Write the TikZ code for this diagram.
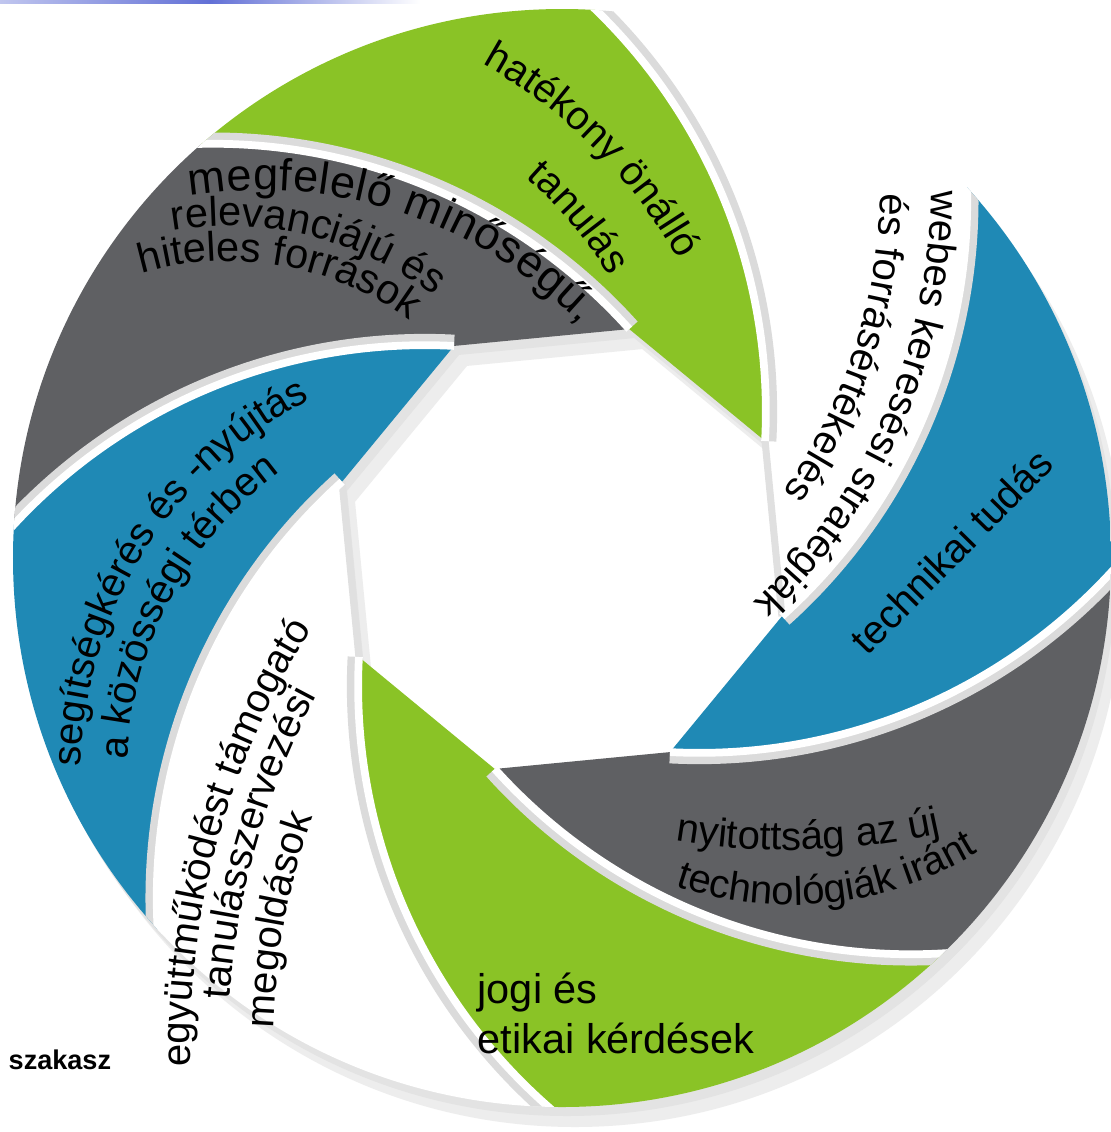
\documentclass[tikz,border=0pt]{standalone}
\usepackage{fontspec}
\setmainfont{Liberation Sans}
\usetikzlibrary{calc,decorations.text}

\definecolor{bladegreen}{RGB}{138,195,38}
\definecolor{bladeblue}{RGB}{31,137,181}
\definecolor{bladegray}{RGB}{95,96,99}
\definecolor{topline}{RGB}{98,112,214}

\newcommand{\bladefont}{\fontsize{11.4}{13}\selectfont}
\newcommand{\bigbladefont}{\fontsize{11.8}{13}\selectfont}
\newcommand{\archfont}{\fontsize{12.8}{14}\selectfont}

\begin{document}
\begin{tikzpicture}[x=0.01cm,y=0.01cm]
\tikzstyle{label}=[inner sep=0pt,font=\bladefont]
\tikzset{arctext/.style={decorate,decoration={text along path,text align=center,text={#1}}},
         arcfit/.style={decorate,decoration={text along path,text align={fit to path},text={#1}}}}

\useasboundingbox (0,0) rectangle (1111,-1132);
\fill[white] (0,0) rectangle (1111,-1132);

% thin rule at the top
\shade[left color=topline!40!white,right color=white,middle color=topline] (0,0) rectangle (420,-3);

% centres of the ring and of the opening
\coordinate (O)  at (562,-558);
\coordinate (Oc) at (562,-549);

\foreach \k in {0,...,7}{
  \pgfmathsetmacro\ang{28+45*\k}
  \coordinate (T\k) at ($(Oc)+(\ang:230)$);
  \coordinate (Q\k) at ($(T\k)+(\ang+149:560)$);
}

% soft shadow
\fill[black!7,even odd rule,transform canvas={shift={(13,-20)}}] (O) circle (549)
  (T0)--(T1)--(T2)--(T3)--(T4)--(T5)--(T6)--(T7)--cycle;
\fill[black!11,even odd rule,transform canvas={shift={(5,-9)}}] (O) circle (549)
  (T0)--(T1)--(T2)--(T3)--(T4)--(T5)--(T6)--(T7)--cycle;

% blades
\begin{scope}
\clip (O) circle (549);
\foreach \k/\c in {0/bladegreen,1/bladegray,2/bladeblue,3/white,4/bladegreen,5/bladegray,6/bladeblue,7/white}{
  \pgfmathsetmacro\ang{28+45*\k}
  \pgfmathtruncatemacro\n{mod(\k+1,8)}
  \fill[\c] (T\k) arc[start angle=\ang-31,end angle=\ang+30,radius=560]
    -- ($(O)+(\ang+70:900)$) -- ($(O)+(\ang+115:900)$)
    -- ($(Q\n)+(\ang+75:560)$) arc[start angle=\ang+75,end angle=\ang+14,radius=560] -- cycle;
}
\draw[black!12,line width=2pt] (T0)--(T7) (T4)--(T3);
\foreach \k in {0,...,7}{
  \pgfmathsetmacro\ang{28+45*\k}
  \draw[black!14,line width=3pt] ($(Q\k)+(\ang-31:566)$) arc[start angle=\ang-31,end angle=\ang+30,radius=566];
  \draw[white,line width=2.2pt] (T\k) arc[start angle=\ang-31,end angle=\ang+30,radius=560];
}
\end{scope}

% green, top
\coordinate (gtc) at (244,-498);
\path[arctext={|\bladefont|hatékony önálló}] ($(gtc)+(80:495)$) arc[start angle=80,end angle=10,radius=495];
\path[arctext={|\bladefont|tanulás}] ($(gtc)+(70:427)$) arc[start angle=70,end angle=10,radius=427];

% gray, top left
\coordinate (kta) at (260,-640);
\path[arcfit={|\archfont|megfelelő minőségű,}] ($(kta)+(99:450)$) arc[start angle=99,end angle=44.5,radius=450];
\coordinate (ktc) at (228,-566);
\path[arctext={|\bigbladefont|relevanciájú és}] ($(ktc)+(110:340)$) arc[start angle=110,end angle=42,radius=340];
\path[arctext={|\bigbladefont|hiteles források}] ($(ktc)+(115:305)$) arc[start angle=115,end angle=45,radius=305];

% blue, left
\coordinate (btc) at (501,-774);
\path[arctext={|\bladefont|segítségkérés és -nyújtás}] ($(btc)+(198:420)$) arc[start angle=198,end angle=98,radius=420];
\path[arctext={|\bladefont|a közösségi térben}] ($(btc)+(202:374)$) arc[start angle=202,end angle=102,radius=374];

% white, bottom left
\coordinate (wtc) at (980,-1050);
\path[arctext={|\bladefont|együttműködést támogató}] ($(wtc)+(185:790)$) arc[start angle=185,end angle=144,radius=790];
\path[arctext={|\bladefont|tanulásszervezési}] ($(wtc)+(186:752)$) arc[start angle=186,end angle=142,radius=752];
\path[arctext={|\bladefont|megoldások}] ($(wtc)+(190:707)$) arc[start angle=190,end angle=149,radius=707];

% green, bottom
\node[label,font=\bigbladefont,anchor=base west] (jogi)   at (477,-1003) {jogi és};
\node[label,font=\bigbladefont,anchor=base west] (etikai) at (477,-1053) {etikai kérdések};

% gray, bottom right
\coordinate (ntc) at (790,-150);
\path[arctext={|\bladefont|nyitottság az új}] ($(ntc)+(251.5:700)$) arc[start angle=251.5,end angle=291.5,radius=700];
\coordinate (ttc) at (790,-545);
\path[arctext={|\bladefont|technológiák iránt}] ($(ttc)+(236:360)$) arc[start angle=236,end angle=317,radius=360];

% blue, right
\node[label,rotate=45.5] (tudas) at (951,-551) {technikai tudás};

% white, top right
\coordinate (wrc) at (363,-190);
\path[arctext={|\bladefont|webes keresési stratégiák}] ($(wrc)+(10:568)$) arc[start angle=10,end angle=-56.6,radius=568];
\path[arctext={|\bladefont|és forrásértékelés}] ($(wrc)+(15:517)$) arc[start angle=15,end angle=-51,radius=517];

\node[anchor=base west,inner sep=0pt,font=\bfseries\fontsize{7.7}{9}\selectfont] (szakasz) at (8,-1069) {szakasz};
\end{tikzpicture}
\end{document}
